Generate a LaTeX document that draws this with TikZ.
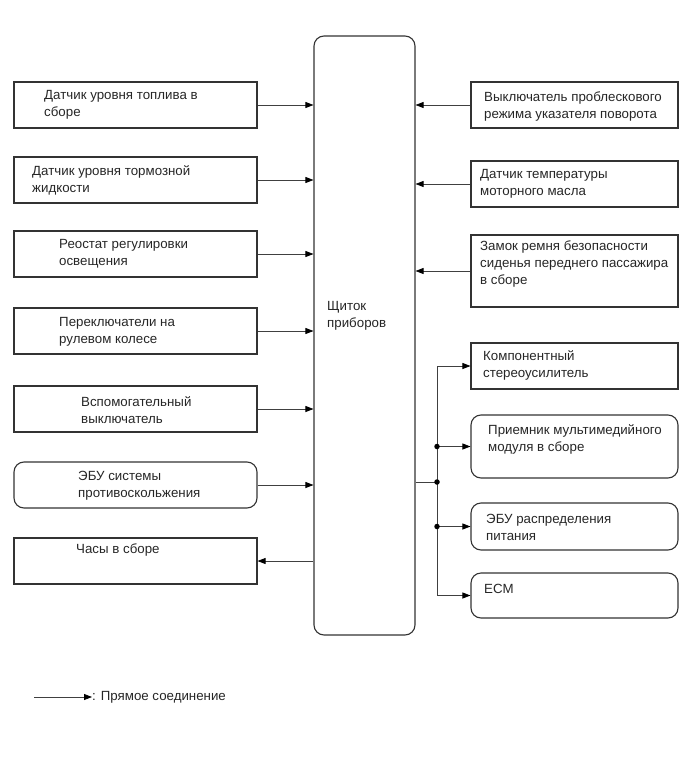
\documentclass[tikz,border=0pt]{standalone}
\usepackage{fontspec}
\setmainfont{Liberation Sans}
\usetikzlibrary{arrows.meta}
\begin{document}
\begin{tikzpicture}[x=1pt,y=-1pt,
  box/.style={draw=black!80, line width=1.1pt, inner sep=0pt},
  rbox/.style={box, rounded corners=10pt},
  txt/.style={anchor=west, align=left, inner sep=0pt, text=black!85,
    font=\fontsize{13.3}{17}\selectfont},
  conn/.style={draw=black!75, line width=0.8pt,
    -{Triangle[length=8pt,width=6pt,fill=black,color=black]}},
  wire/.style={draw=black!75, line width=0.8pt},
  jdot/.style={circle, fill=black, inner sep=0pt, minimum size=5.5pt}]
\useasboundingbox (0,0) rectangle (691,757);

% central block
\node[rbox, minimum width=101, minimum height=599] (C) at (364.5,335.5) {};
\node[txt] (TC) at (327,316) {Щиток\\приборов};

% left blocks
\node[box, minimum width=243, minimum height=46] (L1) at (135.5,105) {};
\node[box, minimum width=243, minimum height=46] (L2) at (135.5,180) {};
\node[box, minimum width=243, minimum height=46] (L3) at (135.5,254) {};
\node[box, minimum width=243, minimum height=46] (L4) at (135.5,331) {};
\node[box, minimum width=243, minimum height=46] (L5) at (135.5,409) {};
\node[rbox, minimum width=243, minimum height=46] (L6) at (135.5,485) {};
\node[box, minimum width=243, minimum height=46] (L7) at (135.5,561) {};

\node[txt] at (44,105) {Датчик уровня топлива в\\сборе};
\node[txt] at (32,180) {Датчик уровня тормозной\\жидкости};
\node[txt] at (59,253.5) {Реостат регулировки\\освещения};
\node[txt] at (59,331.5) {Переключатели на\\рулевом колесе};
\node[txt] at (81,410) {Вспомогательный\\выключатель};
\node[txt] at (78,486) {ЭБУ системы\\противоскольжения};
\node[txt] at (76,550) {Часы в сборе};

% right blocks
\node[box, minimum width=207, minimum height=46] (R1) at (574.5,105) {};
\node[box, minimum width=207, minimum height=46] (R2) at (574.5,184) {};
\node[box, minimum width=207, minimum height=72] (R3) at (574.5,271) {};
\node[box, minimum width=207, minimum height=46] (R4) at (574.5,366) {};
\node[rbox, minimum width=207, minimum height=63] (R5) at (574.5,446.5) {};
\node[rbox, minimum width=207, minimum height=47] (R6) at (574.5,526.5) {};
\node[rbox, minimum width=207, minimum height=45] (R7) at (574.5,595.5) {};

\node[txt] at (484,107) {Выключатель проблескового\\режима указателя поворота};
\node[txt] at (480,183.5) {Датчик температуры\\моторного масла};
\node[txt] at (480,264.5) {Замок ремня безопасности\\сиденья переднего пассажира\\в сборе};
\node[txt] at (483,365.5) {Компонентный\\стереоусилитель};
\node[txt] at (488,439) {Приемник мультимедийного\\модуля в сборе};
\node[txt] at (486,527.5) {ЭБУ распределения\\питания};
\node[txt] at (484,589) {ECM};

% left connectors
\foreach \n in {L1,L2,L3,L4,L5,L6}
  \draw[conn] (\n.east) -- (\n.east -| C.west);
\draw[conn] (L7.east -| C.west) -- (L7.east);

% right inputs
\foreach \n in {R1,R2,R3}
  \draw[conn] (\n.west) -- (\n.west -| C.east);

% output bus
\coordinate (bus) at (437,482);
\draw[wire] (bus -| C.east) -- (bus);
\draw[wire] (bus |- R4.west) -- (bus |- R7.west);
\foreach \n in {R4,R5,R6,R7}
  \draw[conn] (bus |- \n.west) -- (\n.west);
\node[jdot] (J1) at (bus) {};
\node[jdot] (J2) at (bus |- R5.west) {};
\node[jdot] (J3) at (bus |- R6.west) {};

% legend
\coordinate (lg) at (34,697);
\node[txt] (LT) at (92,697) {: Прямое соединение};
\draw[conn] (lg) -- (LT.west);
\end{tikzpicture}
\end{document}
